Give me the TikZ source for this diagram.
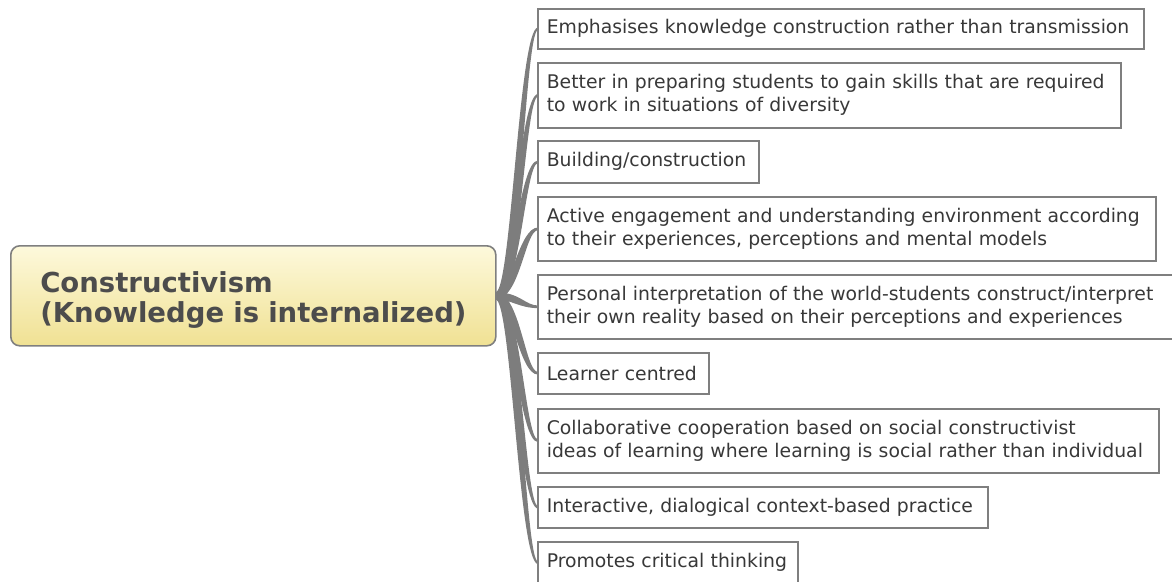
\documentclass[tikz,border=0pt]{standalone}
\usepackage{fontspec}
\setmainfont{DejaVu Sans}
\usepackage{xcolor}
\usetikzlibrary{positioning,calc,backgrounds}

\definecolor{linegray}{HTML}{7D7D7D}
\definecolor{boxgray}{HTML}{7F7F7F}
\definecolor{inkgray}{HTML}{383838}
\definecolor{hubtop}{HTML}{FDF9DC}
\definecolor{hubbottom}{HTML}{F0E193}

\tikzset{
  idea/.style={draw=boxgray, line width=1.6pt, fill=white, anchor=north west,
    inner xsep=9pt, inner ysep=0pt, align=left, text=inkgray,
    font=\fontsize{18.8}{23}\selectfont},
  hub/.style={draw=boxgray, line width=1.6pt, rounded corners=9pt,
    top color=hubtop, bottom color=hubbottom, anchor=north west,
    inner xsep=27.5pt, inner ysep=0pt, align=left, text=inkgray!90,
    font=\fontsize{27.5}{30}\selectfont\bfseries},
  branch/.style={fill=linegray}
}

\begin{document}
\begin{tikzpicture}[x=1pt, y=-1pt]
  \useasboundingbox (0,0) rectangle (1172,581);

  % central idea
  \node[hub, minimum width=485pt, minimum height=100pt, text width=430pt] (hub) at (10,245)
    {\rule{0pt}{30pt}\hspace{2pt}Constructivism\\\hspace{2pt}(Knowledge is internalized)};

  % the ideas on the right
  \node[idea, minimum height=40pt, text width=588pt] (b1) at (537,8)
    {Emphasises knowledge construction rather than transmission};
  \node[idea, minimum height=65pt, text width=565pt] (b2) at (537,62)
    {Better in preparing students to gain skills that are required\\to work in situations of diversity};
  \node[idea, minimum height=42pt, text width=203pt] (b3) at (537,140)
    {Building/construction};
  \node[idea, minimum height=64pt, text width=600pt] (b4) at (537,196)
    {Active engagement and understanding environment according\\to their experiences, perceptions and mental models};
  \node[idea, minimum height=64pt, text width=632pt] (b5) at (537,274)
    {Personal interpretation of the world-students construct/interpret\\their own reality based on their perceptions and experiences};
  \node[idea, minimum height=41pt, text width=153pt] (b6) at (537,352)
    {Learner centred};
  \node[idea, minimum height=64pt, text width=603pt] (b7) at (537,408)
    {Collaborative cooperation based on social constructivist\\ideas of learning where learning is social rather than individual};
  \node[idea, minimum height=41pt, text width=432pt] (b8) at (537,486)
    {Interactive, dialogical context-based practice};
  \node[idea, minimum height=42pt, text width=242pt] (b9) at (537,541)
    {Promotes critical thinking};

  % tapered branches (\s = 1 goes up, -1 goes down)
  \begin{scope}[on background layer]
  \foreach \b/\s in {b1/1,b2/1,b3/1,b4/1,b5/-1,b6/-1,b7/-1,b8/-1,b9/-1}
    \fill[branch] ($(hub.east)+(-1,-3.5)$)
      .. controls ($(hub.east)+({19-4.5*(\s)},-3.5)$) and ($(\b.west)+({-15-3*(\s)},-1.3)$) .. ($(\b.west)+(1,-1.3)$)
      -- ($(\b.west)+(1,1.3)$)
      .. controls ($(\b.west)+({-15+3*(\s)},1.3)$) and ($(hub.east)+({19+4.5*(\s)},3.5)$) .. ($(hub.east)+(-1,3.5)$)
      -- cycle;
  \end{scope}
\end{tikzpicture}
\end{document}
